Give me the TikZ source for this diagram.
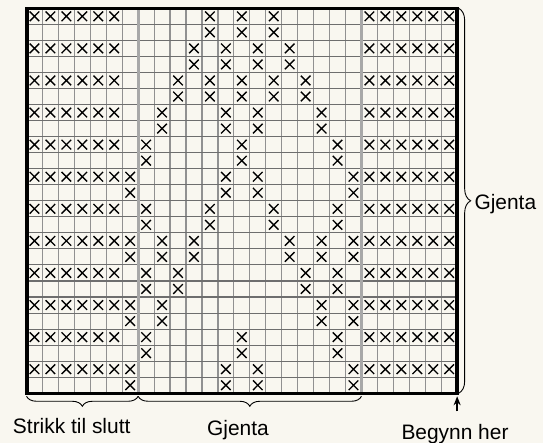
\documentclass[tikz,border=0pt]{standalone}
\usepackage{fontspec}
\setmainfont{Liberation Sans}
\usetikzlibrary{decorations.pathreplacing,arrows.meta}
\definecolor{bg}{RGB}{249,247,240}
\definecolor{vgrid}{RGB}{145,145,145}
\definecolor{hgrid}{RGB}{110,110,110}
\definecolor{sepc}{RGB}{168,168,168}
\begin{document}
\begin{tikzpicture}[x=1bp,y=-1bp,
  vline/.style={vgrid,line width=1.2bp},
  hline/.style={hgrid,line width=1.1bp},
  sepline/.style={sepc,line width=3bp},
  border/.style={black,line width=3bp},
  xmark/.style={black,line width=1.35bp},
  bracedeco/.style={decorate,decoration={brace,amplitude=10bp},black,line width=0.9bp},
  lbl/.style={inner sep=0pt,font=\fontsize{21}{25}\selectfont},
  arr/.style={-{Stealth[length=9bp,width=7bp]},black,line width=1.4bp}]
\useasboundingbox[fill=bg] (0,0) rectangle (543,443);
\begin{scope}[shift={(26.5,8.3)},x=15.95bp,y=-16.04bp]
  \foreach \i in {1,...,26} \draw[vline] (\i,0) -- (\i,24);
  \foreach \j in {1,...,23} \draw[hline] (0,\j) -- (27,\j);
  \foreach \r/\cols in {
    0/{0,1,2,3,4,5,11,13,15,21,22,23,24,25,26},
    1/{11,13,15},
    2/{0,1,2,3,4,5,10,12,14,16,21,22,23,24,25,26},
    3/{10,12,14,16},
    4/{0,1,2,3,4,5,9,11,13,15,17,21,22,23,24,25,26},
    5/{9,11,13,15,17},
    6/{0,1,2,3,4,5,8,12,14,18,21,22,23,24,25,26},
    7/{8,12,14,18},
    8/{0,1,2,3,4,5,7,13,19,21,22,23,24,25,26},
    9/{7,13,19},
    10/{0,1,2,3,4,5,6,12,14,20,21,22,23,24,25,26},
    11/{6,12,14,20},
    12/{0,1,2,3,4,5,7,11,15,19,21,22,23,24,25,26},
    13/{7,11,15,19},
    14/{0,1,2,3,4,5,6,8,10,16,18,20,21,22,23,24,25,26},
    15/{6,8,10,16,18,20},
    16/{0,1,2,3,4,5,7,9,17,19,21,22,23,24,25,26},
    17/{7,9,17,19},
    18/{0,1,2,3,4,5,6,8,18,20,21,22,23,24,25,26},
    19/{6,8,18,20},
    20/{0,1,2,3,4,5,7,13,19,21,22,23,24,25,26},
    21/{7,13,19},
    22/{0,1,2,3,4,5,6,12,14,20,21,22,23,24,25,26},
    23/{6,12,14,20}} {
    \foreach \c in \cols {
      \draw[xmark] (\c+0.2,\r+0.2) -- (\c+0.8,\r+0.8)
                   (\c+0.8,\r+0.2) -- (\c+0.2,\r+0.8);
    }
  }
  \draw[sepline] (7,0) -- (7,24);
  \draw[sepline] (21,0) -- (21,24);
  \draw[border] (0,0) rectangle (27,24);
  \draw[black,line width=4bp] (0,0) -- (0,24);
  \draw[black,line width=4bp] (27,0) -- (27,24);
  \coordinate (TL) at (0,0);
  \coordinate (TR) at (27,0);
  \coordinate (BL) at (0,24);
  \coordinate (BR) at (27,24);
  \coordinate (S1) at (7,24);
  \coordinate (S2) at (21,24);
\end{scope}
\draw[bracedeco] ([yshift=-3bp]S1) -- ([yshift=-3bp]BL);
\draw[bracedeco] ([yshift=-3bp]S2) -- ([yshift=-3bp]S1);
\draw[bracedeco,decoration={amplitude=12bp}] ([xshift=1.5bp]TR) -- ([xshift=1.5bp]BR);
\node[lbl,anchor=base] (strikk) at (71.7,433) {Strikk til slutt};
\node[lbl,anchor=base] (gjentab) at (238,435) {Gjenta};
\node[lbl,anchor=base] (begynn) at (455,439) {Begynn her};
\node[lbl,anchor=base west] (gjentar) at (474.3,210) {Gjenta};
\coordinate (arrbase) at ([yshift=-18bp]BR);
\draw[arr] (arrbase) -- ([yshift=-3bp]BR);
\end{tikzpicture}
\end{document}
